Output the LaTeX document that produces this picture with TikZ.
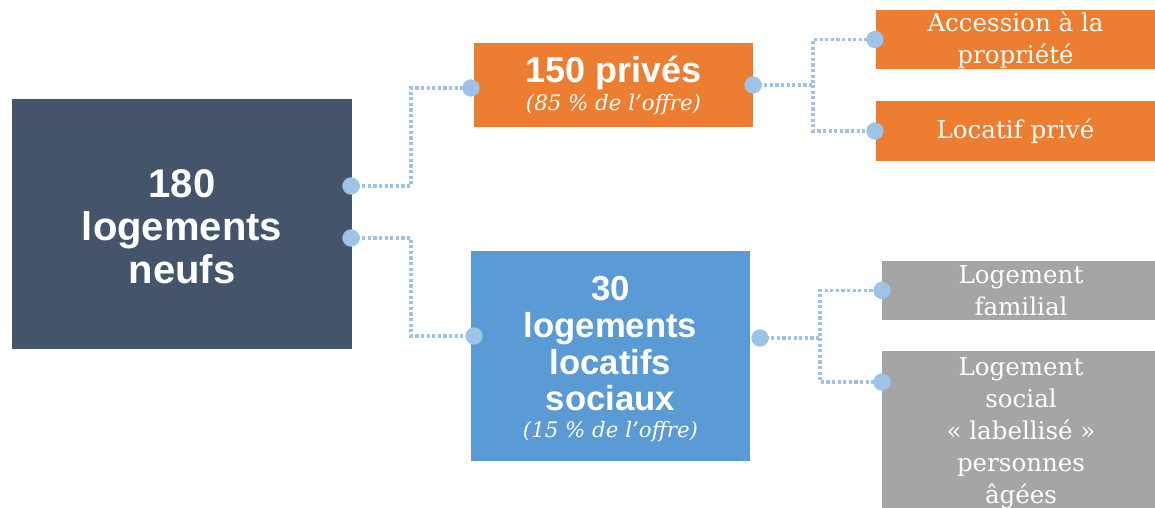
\documentclass[tikz,border=0pt]{standalone}
\usepackage{fontspec}
\setmainfont{DejaVu Serif}
\setsansfont{Liberation Sans}
\usetikzlibrary{calc}
\definecolor{slate}{HTML}{44546A}
\definecolor{orng}{HTML}{ED7D31}
\definecolor{blu}{HTML}{5B9BD5}
\definecolor{gry}{HTML}{A5A5A5}
\definecolor{lnk}{HTML}{9DC3E6}
\begin{document}
\begin{tikzpicture}[x=0.75pt,y=-0.75pt,
  box/.style={draw=none, inner sep=0pt, outer sep=0pt},
  link/.style={draw=lnk, line width=2.6pt, dash pattern=on 2.4pt off 1.8pt},
  dot/.style={circle, fill=lnk, minimum size=13pt, inner sep=0pt},
  bigtxt/.style={text=white, align=center, inner sep=0pt, font=\sffamily\bfseries},
  subtxt/.style={text=white, align=center, inner sep=0pt, font=\itshape\fontsize{16}{19}\selectfont},
  leaftxt/.style={text=white, align=center, inner sep=0pt, font=\fontsize{18.4}{24}\selectfont}]
\useasboundingbox (0,0) rectangle (1155,507);
% boxes
\node[box, fill=slate, minimum width=255pt, minimum height=187.5pt] (main) at (182,224) {};
\node[box, fill=orng, minimum width=209.25pt, minimum height=63pt] (prv) at (613.5,85) {};
\node[box, fill=blu, minimum width=209.25pt, minimum height=157.5pt] (soc) at (610.5,356) {};
\node[box, fill=orng, minimum width=209.25pt, minimum height=44.25pt] (acc) at (1015.5,39.5) {};
\node[box, fill=orng, minimum width=209.25pt, minimum height=45pt] (lp) at (1015.5,131) {};
\node[box, fill=gry, minimum width=204.75pt, minimum height=44.25pt] (fam) at (1018.5,290.5) {};
\node[box, fill=gry, minimum width=204.75pt, minimum height=126.75pt] (sen) at (1018.5,435.5) {};
% anchor points
\coordinate (m1) at ($(main.east)+(-1,-38)$);
\coordinate (m2) at ($(main.east)+(-1,14)$);
\coordinate (p1) at ($(prv.west)+(-3,3)$);
\coordinate (p2) at (prv.east);
\coordinate (s1) at ($(soc.west)+(3,-20)$);
\coordinate (s2) at ($(soc.east)+(10,-18)$);
\coordinate (a1) at ($(acc.west)+(-1,0)$);
\coordinate (l1) at ($(lp.west)+(-1,0)$);
\coordinate (f1) at (fam.west);
\coordinate (g1) at ($(sen.north west)+(0,31)$);
% connectors
\draw[link] (m1) -- ++(60,0) |- (p1);
\draw[link] (m2) -- ++(60,0) |- (s1);
\draw[link] (p2) -- ++(60,0) coordinate (pj) |- (a1);
\draw[link] (pj) |- (l1);
\draw[link] (s2) -- ++(60,0) coordinate (sj) |- (f1);
\draw[link] (sj) |- (g1);
% dots
\foreach \c in {m1,m2,p1,p2,s1,s2,a1,l1,f1,g1}{\node[dot] (d\c) at (\c) {};}
% texts
\node[bigtxt, font=\sffamily\bfseries\fontsize{30}{32.25}\selectfont] (tmain) at (182,227) {180\\logements\\neufs};
\node[bigtxt, font=\sffamily\bfseries\fontsize{27}{30}\selectfont] (tprv) at (613.5,73) {150 privés};
\node[subtxt] (sprv) at (613.5,105) {(85 \% de l'offre)};
\node[bigtxt, font=\sffamily\bfseries\fontsize{26}{27.5}\selectfont] (tsoc) at (610.5,344) {30\\logements\\locatifs\\sociaux};
\node[subtxt] (ssoc) at (610.5,432) {(15 \% de l'offre)};
\node[leaftxt] (tacc) at (1015.5,40) {Accession à la\\propriété};
\node[leaftxt] (tlp) at (1015.5,131) {Locatif privé};
\node[leaftxt] (tfam) at (1021,291) {Logement\\familial};
\node[leaftxt] (tsen) at (1021,433) {Logement\\social\\« labellisé »\\personnes\\âgées};
\end{tikzpicture}
\end{document}
